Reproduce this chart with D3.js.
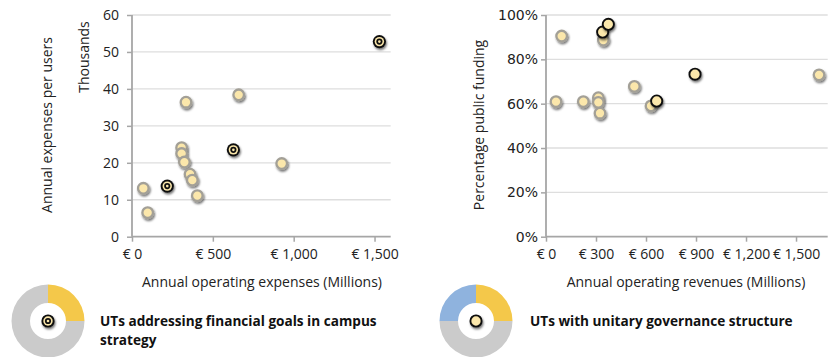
<!DOCTYPE html>
<html>
<head>
<meta charset="utf-8">
<script src="https://cdn.jsdelivr.net/npm/d3@7"></script>
<style>
  html, body { margin: 0; padding: 0; background: #fff; }
  svg { display: block; font-family: "Open Sans", "Noto Sans", sans-serif; }
</style>
</head>
<body>
<svg id="chart" width="830" height="357"></svg>
<script>
// Left panel: annual operating expenses (M EUR) vs expenses per user (thousands)
const expenses      = [70, 97, 307, 307, 324, 334, 359, 373, 404, 660, 926, 218, 627, 1530];
const expPerUser    = [13.1, 6.5, 24.1, 22.5, 20.2, 36.4, 16.9, 15.3, 11.1, 38.4, 19.8, 13.7, 23.5, 52.8];
const financialGoal = [0, 0, 0, 0, 0, 0, 0, 0, 0, 0, 0, 1, 1, 1];

// Right panel: annual operating revenues (M EUR) vs share of public funding
const revenues      = [60, 94, 224, 314, 314, 324, 344, 530, 630, 1638, 340, 374, 664, 894];
const publicFunding = [0.609, 0.905, 0.609, 0.627, 0.606, 0.557, 0.887, 0.678, 0.590, 0.730, 0.923, 0.958, 0.612, 0.733];
const unitary       = [0, 0, 0, 0, 0, 0, 0, 0, 0, 0, 1, 1, 1, 1];

const leftXTicks  = [0, 500, 1000, 1500];
const leftYTicks  = [0, 10, 20, 30, 40, 50, 60];
const rightXTicks = [0, 300, 600, 900, 1200, 1500];
const rightYTicks = [0, 0.2, 0.4, 0.6, 0.8, 1.0];

// Donut shares (fraction of the ring)
const goalShares    = [0.25, 0.75];        // yellow, grey
const unitaryShares = [0.25, 0.5, 0.25];   // yellow, grey, blue

const svg = d3.select("#chart");
const CREAM = "#fbe7ab", RING = "#a3a097", GRID = "#dedede", AXIS = "#a6a6a6";
const FS = 14;
const euro = d => "€ " + d3.format(",")(d);

const defs = svg.append("defs");
const sh = defs.append("filter").attr("id", "shadow")
  .attr("x", "-60%").attr("y", "-60%").attr("width", "220%").attr("height", "220%");
sh.append("feDropShadow").attr("dx", 1).attr("dy", 1.8).attr("stdDeviation", 1.3)
  .attr("flood-color", "#000").attr("flood-opacity", 0.55);
const soft = defs.append("filter").attr("id", "soft");
soft.append("feGaussianBlur").attr("stdDeviation", 0.35);

function panel(cfg) {
  const g = svg.append("g");
  const x = d3.scaleLinear().domain(cfg.xDomain).range(cfg.xRange);
  const y = d3.scaleLinear().domain(cfg.yDomain).range([236.7, 15]);

  // horizontal gridlines
  g.append("g").selectAll("line").data(cfg.yTicks.filter(d => d > 0)).join("line")
    .attr("x1", cfg.xRange[0]).attr("x2", cfg.xRange[1])
    .attr("y1", d => y(d)).attr("y2", d => y(d))
    .attr("stroke", GRID).attr("stroke-width", 1.3);

  const ya = g.append("g").attr("transform", `translate(${cfg.xRange[0]},0)`)
    .call(d3.axisLeft(y).tickValues(cfg.yTicks).tickFormat(cfg.yFormat).tickSize(5).tickPadding(cfg.yPad));
  const xa = g.append("g").attr("transform", `translate(0,${y(0)})`)
    .call(d3.axisBottom(x).tickValues(cfg.xTicks).tickFormat(euro).tickSize(5).tickPadding(7));
  xa.select(".domain").attr("d", `M${cfg.xRange[0]},0H${cfg.xRange[1]}`);
  ya.select(".domain").attr("d", `M0,${y(0)}V15`);
  [ya, xa].forEach(a => {
    a.selectAll(".domain").attr("stroke", AXIS).attr("stroke-width", 1.8);
    a.selectAll(".tick line").attr("stroke", AXIS).attr("stroke-width", 1.5);
    a.selectAll("text").attr("font-size", FS).attr("fill", "#222")
      .attr("font-family", "'Open Sans', sans-serif");
  });
  ya.selectAll("text").attr("font-family", cfg.yFont);

  // axis titles
  g.append("text").attr("x", cfg.xTitleX).attr("y", 287)
    .attr("text-anchor", "middle").attr("font-size", FS).attr("fill", "#222")
    .text(cfg.xTitle);
  cfg.yTitles.forEach(t => {
    g.append("text").attr("transform", `translate(${t.x},${t.y}) rotate(-90)`)
      .attr("text-anchor", "middle").attr("font-size", FS).attr("fill", "#222").text(t.text);
  });

  const pts = cfg.xs.map((v, i) => ({x: v, y: cfg.ys[i], hi: cfg.flag[i]}));
  const plain = pts.filter(p => !p.hi), hi = pts.filter(p => p.hi);
  const pg = g.append("g").attr("filter", "url(#soft)");
  pg.selectAll("circle.p").data(plain).join("circle").attr("class", "p")
    .attr("cx", p => x(p.x)).attr("cy", p => y(p.y)).attr("r", 5.3)
    .attr("fill", CREAM).attr("stroke", RING).attr("stroke-width", 2.3)
    .attr("filter", "url(#shadow)");
  hi.forEach(p => cfg.marker(g, x(p.x), y(p.y)));
}

function bullseye(g, cx, cy) {
  const m = g.append("g").attr("filter", "url(#shadow)");
  [[6.6, "#111"], [4.7, CREAM], [3.1, "#111"], [1.3, CREAM]].forEach(([r, c]) =>
    m.append("circle").attr("cx", cx).attr("cy", cy).attr("r", r).attr("fill", c));
}
function ringed(g, cx, cy) {
  g.append("circle").attr("cx", cx).attr("cy", cy).attr("r", 5.6)
    .attr("fill", CREAM).attr("stroke", "#111").attr("stroke-width", 1.9)
    .attr("filter", "url(#shadow)");
}

panel({
  xDomain: [0, 1600], xRange: [132, 390.7], yDomain: [0, 60], yPad: 8,
  yFont: "'Open Sans', sans-serif",
  xTicks: leftXTicks, yTicks: leftYTicks, yFormat: d3.format("d"),
  xTitle: "Annual operating expenses (Millions)", xTitleX: 262,
  yTitles: [{x: 52, y: 125, text: "Annual expenses per users"}, {x: 89, y: 57, text: "Thousands"}],
  xs: expenses, ys: expPerUser, flag: financialGoal, marker: bullseye
});
panel({
  xDomain: [0, 1690], xRange: [546, 827.7], yDomain: [0, 1], yPad: 3,
  yFont: "'DejaVu Sans', sans-serif",
  xTicks: rightXTicks, yTicks: rightYTicks, yFormat: d3.format(".0%"),
  xTitle: "Annual operating revenues (Millions)", xTitleX: 686,
  yTitles: [{x: 484, y: 125, text: "Percentage public funding"}],
  xs: revenues, ys: publicFunding, flag: unitary, marker: ringed
});

function donut(cx, cy, shares, colors, marker, label) {
  const g = svg.append("g").attr("transform", `translate(${cx},${cy})`);
  const arcs = d3.pie().sort(null).value(d => d)(shares);
  g.selectAll("path").data(arcs).join("path")
    .attr("d", d3.arc().innerRadius(18).outerRadius(36.5))
    .attr("fill", (d, i) => colors[i]);
  marker(g, 0, 0);
  label.lines.forEach((s, i) =>
    svg.append("text").attr("x", label.x).attr("y", 326 + i * 18.8)
      .attr("font-size", 13.6).attr("font-weight", "bold").attr("fill", "#111").text(s));
}
donut(48, 321, goalShares, ["#f4c84a", "#cbcbcb"], bullseye,
  {x: 100, lines: ["UTs addressing financial goals in campus", "strategy"]});
donut(476, 321, unitaryShares, ["#f4c84a", "#cbcbcb", "#8fb3de"], ringed,
  {x: 530, lines: ["UTs with unitary governance structure"]});
</script>
</body>
</html>
